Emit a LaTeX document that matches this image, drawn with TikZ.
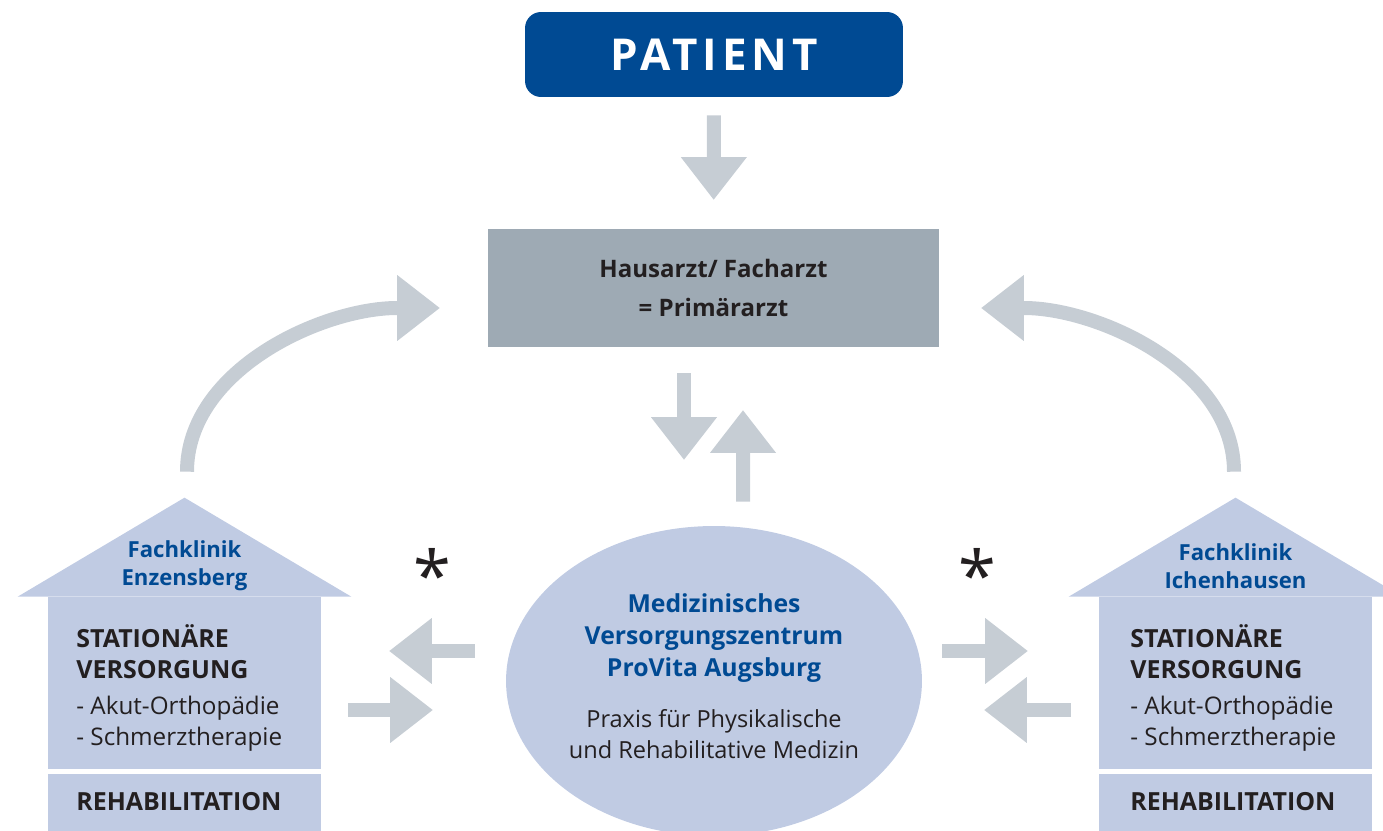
\documentclass[tikz,border=0pt]{standalone}
\usepackage{fontspec}
\setmainfont{Open Sans}
\usetikzlibrary{arrows.meta,calc,shapes.geometric}
\definecolor{patblue}{RGB}{0,74,147}
\definecolor{arztgrey}{RGB}{158,170,180}
\definecolor{housefill}{RGB}{192,203,227}
\definecolor{arrowgrey}{RGB}{198,205,212}
\definecolor{textdark}{RGB}{35,31,32}
\tikzset{
  fatarrow/.style={draw=arrowgrey, line width=0.28cm, -{Triangle[width=1.32cm,length=0.85cm,line width=0pt]}},
  housebody/.style={fill=housefill, inner sep=0pt, minimum width=5.46cm},
  kliniktext/.style={text=patblue, align=center, inner sep=0pt, font=\fontsize{12.6}{15.9}\selectfont\bfseries},
  stattext/.style={text=textdark, align=left, inner sep=0pt, anchor=west, font=\fontsize{14.2}{17.6}\selectfont\bfseries},
  listtext/.style={text=textdark, align=left, inner sep=0pt, anchor=west, font=\fontsize{13.8}{17.6}\selectfont},
  startext/.style={text=textdark, inner sep=0pt, font=\fontsize{39}{39}\selectfont}
}
\def\roof(#1){\fill[housefill] ($(#1.north west)+(-30,0)$) -- ($(#1.north)+(0,-99)$) -- ($(#1.north east)+(30,0)$) -- cycle;}

\begin{document}
\begin{tikzpicture}[x=0.02cm, y=-0.02cm]
	\useasboundingbox (0,0) rectangle (1383,831);
	
	%%% top
	\node[fill=patblue, rounded corners=0.32cm, minimum width=7.56cm, minimum height=1.7cm, text=white,
	  font=\fontsize{25}{25}\selectfont\bfseries\addfontfeatures{LetterSpace=11}] (patient) at (714,54.5) {PATIENT};
	\node[fill=arztgrey, minimum width=9.02cm, minimum height=2.36cm, align=center, text=textdark,
	  font=\fontsize{13.7}{22}\selectfont\bfseries] (arzt) at (713.5,288) {Hausarzt/ Facharzt\\= Primärarzt};
	
	%%% centre
	\node[ellipse, fill=housefill, minimum width=8.32cm, minimum height=6.2cm, inner sep=0pt] (mvz) at (714,681) {};
	\node[kliniktext, font=\fontsize{14.1}{18}\selectfont\bfseries] (mvzname) at (714,638) {Medizinisches\\Versorgungszentrum\\ProVita Augsburg};
	\node[listtext, anchor=center, align=center, font=\fontsize{13.4}{17.6}\selectfont] (mvzsub) at (714,734) {Praxis für Physikalische\\und Rehabilitative Medizin};
	
	%%% houses
	\node[housebody, minimum height=3.44cm] (bodyL) at (184.5,683) {};
	\node[housebody, minimum height=1.24cm] (rehabL) at (184.5,805) {};
	\roof(bodyL)
	\node[housebody, minimum height=3.44cm] (bodyR) at (1235.5,683) {};
	\node[housebody, minimum height=1.24cm] (rehabR) at (1235.5,805) {};
	\roof(bodyR)
	
	\node[kliniktext] (klinikL) at (184.5,566) {Fachklinik\\Enzensberg};
	\node[stattext] (statL) at (76,652) {STATIONÄRE\\VERSORGUNG};
	\node[listtext] (listL) at (76,724) {- Akut-Orthopädie\\- Schmerztherapie};
	\node[stattext] (rehaL) at (76,802) {REHABILITATION};
	
	\node[kliniktext] (klinikR) at (1235.5,566) {Fachklinik\\Ichenhausen};
	\node[stattext] (statR) at (1130,652) {STATIONÄRE\\VERSORGUNG};
	\node[listtext] (listR) at (1130,724) {- Akut-Orthopädie\\- Schmerztherapie};
	\node[stattext] (rehaR) at (1130,802) {REHABILITATION};
	
	\node[startext] (starL) at (432,574) {*};
	\node[startext] (starR) at (977,574) {*};
	
	%%% arrows
	\draw[fatarrow, shorten <=0.36cm, shorten >=0.58cm] (patient) -- (arzt);
	\draw[fatarrow, shorten <=0.52cm, shorten >=1.32cm] ($(arzt.south)+(-29.5,0)$) -- ($(mvz.north)+(-30,0)$);
	\draw[fatarrow, shorten <=0.48cm, shorten >=1.26cm] ($(mvz.north)+(29,0)$) -- ($(arzt.south)+(29.5,0)$);
	
	\draw[fatarrow, shorten <=0.62cm, shorten >=1.36cm] ($(mvz.west)+(0,-30)$) -- ($(bodyL.east)+(0,-32)$);
	\draw[fatarrow, shorten <=0.54cm, shorten >=1.46cm] ($(bodyL.east)+(0,27)$) -- ($(mvz.west)+(0,29)$);
	\draw[fatarrow, shorten <=0.4cm, shorten >=1.42cm] ($(mvz.east)+(0,-30)$) -- ($(bodyR.west)+(0,-32)$);
	\draw[fatarrow, shorten <=0.56cm, shorten >=1.24cm] ($(bodyR.west)+(0,27)$) -- ($(mvz.east)+(0,29)$);
	
	\draw[fatarrow] ($(bodyL.north)+(2.5,-125)$) .. controls +(0,-102) and +(-117,0) .. ($(arzt.west)+(-48,20)$);
	\draw[fatarrow] ($(bodyR.north)+(-1.5,-125)$) .. controls +(0,-102) and +(117,0) .. ($(arzt.east)+(42,20)$);
\end{tikzpicture}
\end{document}
